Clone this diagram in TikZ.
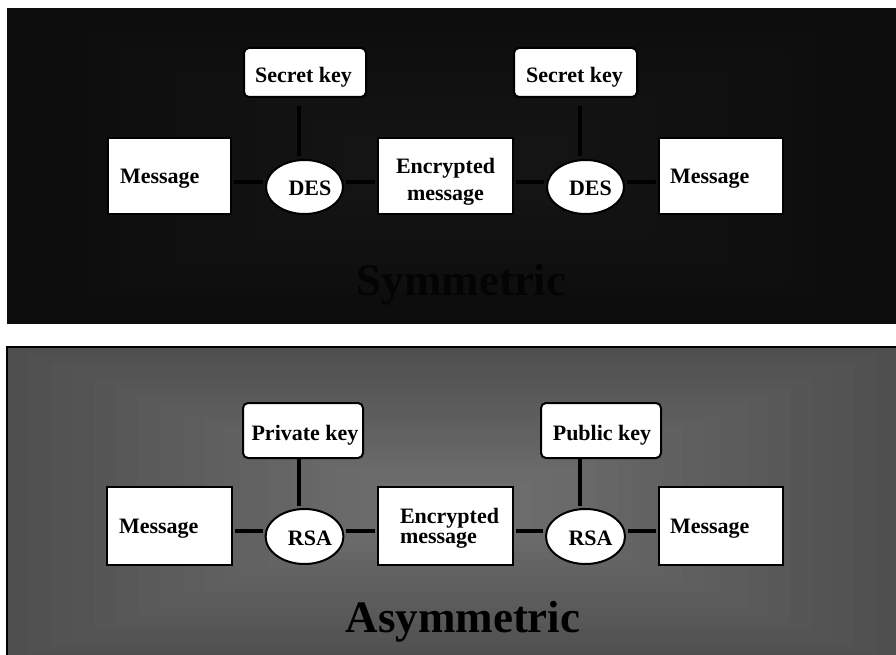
\documentclass[tikz,border=0pt]{standalone}
\usepackage{fontspec}
\setmainfont{Liberation Serif}
\usetikzlibrary{shapes.geometric,calc}
\definecolor{topout}{HTML}{0C0C0C}
\definecolor{topin}{HTML}{151515}
\definecolor{botout}{HTML}{4F4F4F}
\definecolor{botin}{HTML}{6F6F6F}
\definecolor{symtxt}{HTML}{040404}
\begin{document}
\begin{tikzpicture}[x=1pt,y=-1pt,
  lbl/.style={font=\fontsize{22}{27}\selectfont\bfseries},
  box/.style={lbl,draw=black,line width=2pt,fill=white,rectangle,inner sep=0pt},
  keybox/.style={box,rounded corners=5pt},
  cipher/.style={lbl,draw=black,line width=2pt,fill=white,ellipse,inner sep=0pt,minimum width=77pt,minimum height=54pt},
  conn/.style={line width=3.5pt,black},
  title/.style={font=\fontsize{45}{54}\selectfont\bfseries}]
\useasboundingbox (0,0) rectangle (896,655);
\fill[white] (0,0) rectangle (896,655);
% top panel background
\foreach \i in {0,...,14}{
  \pgfmathsetmacro\t{\i/14}
  \pgfmathsetmacro\xa{7+\t*(395-7)}
  \pgfmathsetmacro\ya{8+\t*(150-8)}
  \pgfmathsetmacro\xb{897+\t*(515-897)}
  \pgfmathsetmacro\yb{324+\t*(185-324)}
  \pgfmathsetmacro\pc{100*\t}
  \fill[topin!\pc!topout] (\xa,\ya) rectangle (\xb,\yb);
}
% bottom panel background
\foreach \i in {0,...,18}{
  \pgfmathsetmacro\t{\i/18}
  \pgfmathsetmacro\xa{7+\t*(400-7)}
  \pgfmathsetmacro\ya{347+\t*(490-347)}
  \pgfmathsetmacro\xb{897+\t*(510-897)}
  \pgfmathsetmacro\yb{662+\t*(520-662)}
  \pgfmathsetmacro\pc{100*\t}
  \fill[botin!\pc!botout] (\xa,\ya) rectangle (\xb,\yb);
}
\draw[line width=2pt] (7,660) -- (7,347) -- (900,347);

\coordinate (hy1) at (0,182);
\coordinate (hy2) at (0,531);
\coordinate (vx1) at (299,0);
\coordinate (vx2) at (580,0);

% ---------- Symmetric ----------
\node[box,minimum width=123pt,minimum height=76pt,text width=99pt,inner xsep=12pt,align=left,text height=14pt,text depth=0pt] (m1) at (169.5,176) {Message};
\node[keybox,minimum width=122pt,minimum height=49pt,text height=21pt,text depth=0pt] (k1) at (305,72.5) {\kern-3pt Secret key};
\node[cipher,text height=18pt,text depth=0pt] (d1) at (304.5,187) {\kern11pt DES};
\node[box,minimum width=135pt,minimum height=76pt] (e1) at (445.5,176) {\raisebox{-10.6pt}[0pt][0pt]{\begin{tabular}{@{}c@{}}Encrypted\\message\end{tabular}}};
\node[keybox,minimum width=123pt,minimum height=49pt,text height=21pt,text depth=0pt] (k2) at (575.5,72.5) {\kern-2pt Secret key};
\node[cipher,text height=18pt,text depth=0pt] (d2) at (585.5,187) {\kern10pt DES};
\node[box,minimum width=124pt,minimum height=76pt,text width=102pt,inner xsep=11pt,align=left,text height=14pt,text depth=0pt] (m2) at (721,176) {Message};
\node[title,text=symtxt,anchor=base] (t1) at (461.5,295) {Symmetric};

\draw[conn,shorten <=2pt,shorten >=2pt] (m1.east |- hy1) -- (d1.west |- hy1);
\draw[conn,shorten <=2pt,shorten >=2pt] (d1.east |- hy1) -- (e1.west |- hy1);
\draw[conn,shorten <=2pt,shorten >=2pt] (e1.east |- hy1) -- (d2.west |- hy1);
\draw[conn,shorten <=2pt,shorten >=2pt] (d2.east |- hy1) -- (m2.west |- hy1);
\draw[conn,shorten <=8pt,shorten >=3pt] (k1.south -| vx1) -- (d1.north -| vx1);
\draw[conn,shorten <=8pt,shorten >=3pt] (k2.south -| vx2) -- (d2.north -| vx2);

% ---------- Asymmetric ----------
\node[box,minimum width=125pt,minimum height=78pt,text width=101pt,inner xsep=12pt,align=left,text height=14pt,text depth=0pt] (m3) at (169.5,526) {Message};
\node[keybox,minimum width=120pt,minimum height=55pt,text height=19pt,text depth=0pt] (k3) at (303,430.5) {\kern4pt Private key};
\node[cipher,minimum width=77pt,minimum height=55pt,text height=17pt,text depth=0pt] (r1) at (304.5,536.5) {\kern11pt RSA};
\node[box,minimum width=135pt,minimum height=78pt] (e2) at (445.5,526) {\raisebox{-7.1pt}[0pt][0pt]{\kern8pt\begin{tabular}{@{}l@{}}Encrypted\\[-7pt]message\end{tabular}}};
\node[keybox,minimum width=120pt,minimum height=55pt,text height=19pt,text depth=0pt] (k4) at (601,430.5) {\kern2pt Public key};
\node[cipher,minimum width=79pt,minimum height=55pt,text height=17pt,text depth=0pt] (r2) at (585.5,536.5) {\kern10pt RSA};
\node[box,minimum width=124pt,minimum height=78pt,text width=102pt,inner xsep=11pt,align=left,text height=14pt,text depth=0pt] (m4) at (721,526) {Message};
\node[title,anchor=base] (t2) at (463,632) {Asymmetric};

\draw[conn,shorten <=2pt,shorten >=2pt] (m3.east |- hy2) -- (r1.west |- hy2);
\draw[conn,shorten <=2pt,shorten >=2pt] (r1.east |- hy2) -- (e2.west |- hy2);
\draw[conn,shorten <=2pt,shorten >=2pt] (e2.east |- hy2) -- (r2.west |- hy2);
\draw[conn,shorten <=2pt,shorten >=2pt] (r2.east |- hy2) -- (m4.west |- hy2);
\draw[conn,shorten <=0pt,shorten >=2pt] (k3.south -| vx1) -- (r1.north -| vx1);
\draw[conn,shorten <=0pt,shorten >=2pt] (k4.south -| vx2) -- (r2.north -| vx2);
\end{tikzpicture}
\end{document}
